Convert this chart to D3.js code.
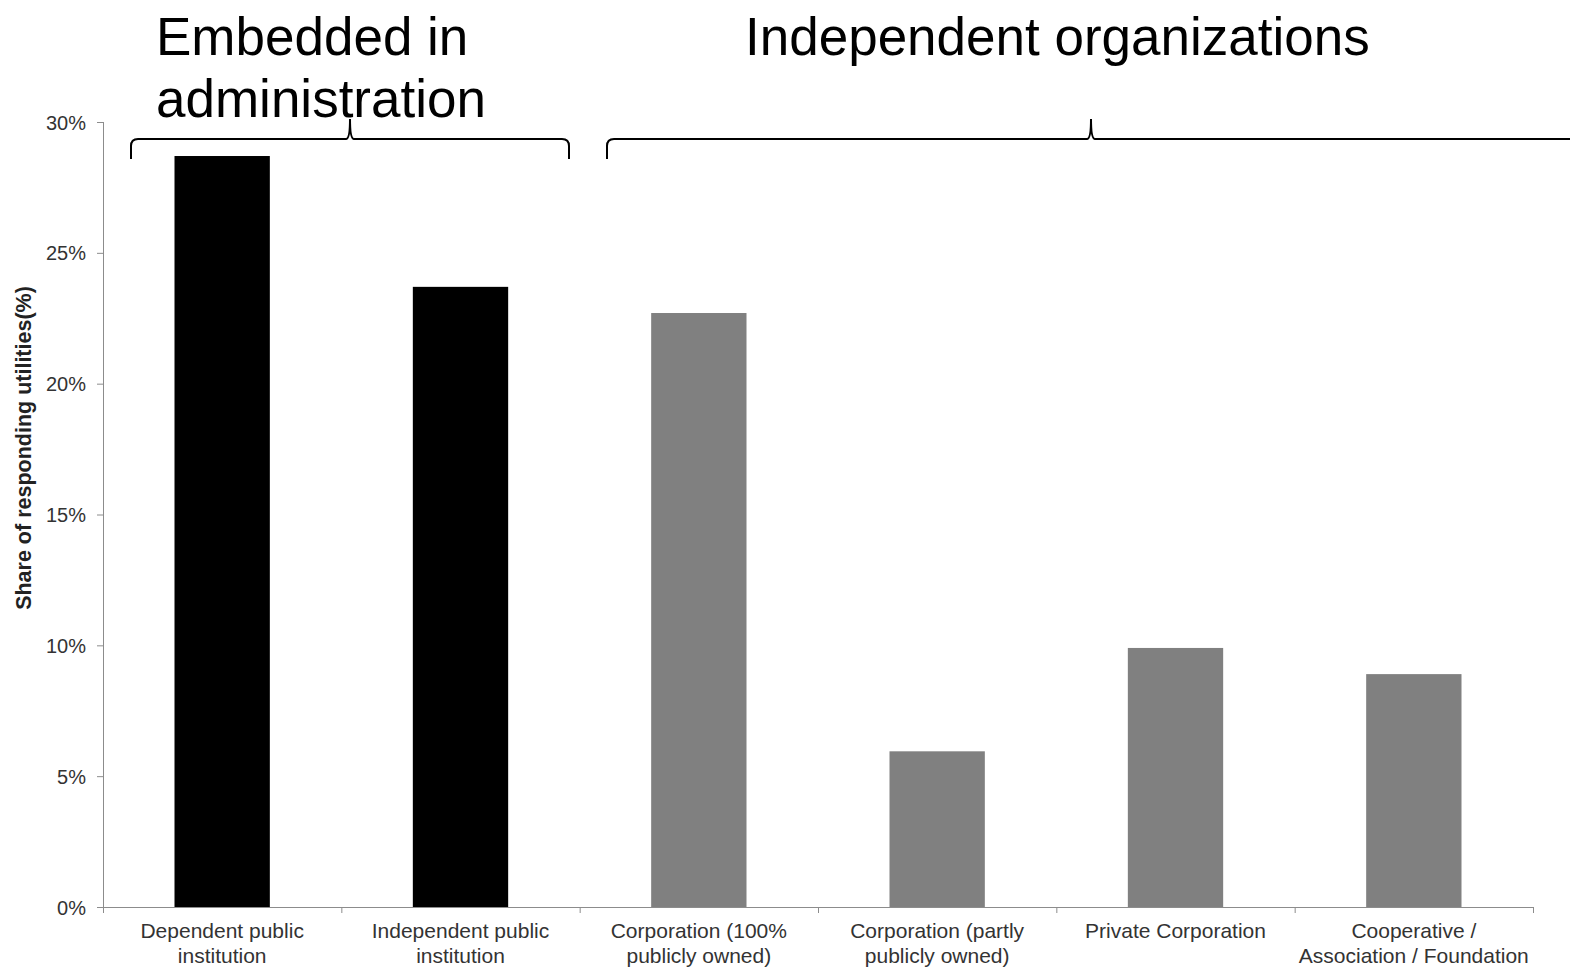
<!DOCTYPE html>
<html>
<head>
<meta charset="utf-8">
<script src="https://cdn.jsdelivr.net/npm/d3@7"></script>
<style>
  body { margin: 0; background: #fff; }
  svg { display: block; font-family: Arial, "Liberation Sans", sans-serif; }
  .axis path, .axis line { stroke: #8c8c8c; }
  .axis text { fill: #333; }
</style>
</head>
<body>
<svg id="chart" width="1570" height="968"></svg>
<script>
// categories, label lines and values
var categories = ['dep', 'indep', 'corp100', 'corpPart', 'private', 'coop'];
var labelLines = [
  ['Dependent public', 'institution'],
  ['Independent public', 'institution'],
  ['Corporation (100%', 'publicly owned)'],
  ['Corporation (partly', 'publicly owned)'],
  ['Private Corporation'],
  ['Cooperative /', 'Association / Foundation']
];
var shares = [28.7, 23.7, 22.7, 5.95, 9.9, 8.9];
var embedded = [true, true, false, false, false, false];
var yTicks = [0, 5, 10, 15, 20, 25, 30];

// group titles over the braces
var groupTitles = [['Embedded in', 'administration'], ['Independent organizations']];

var svg = d3.select('#chart');
var plotLeft = 103, plotRight = 1533, plotTop = 122, plotBottom = 907;

var x = d3.scaleBand().domain(categories).range([plotLeft, plotRight]).paddingInner(0.6).paddingOuter(0.3);
var xb = d3.scaleBand().domain(categories).range([plotLeft, plotRight]);
var y = d3.scaleLinear().domain([0, 30]).range([plotBottom, plotTop]);

// bars
svg.append('g').selectAll('rect')
  .data(shares)
  .enter().append('rect')
  .attr('x', function (d, i) { return x(categories[i]); })
  .attr('width', x.bandwidth())
  .attr('y', function (d) { return y(d); })
  .attr('height', function (d) { return y(0) - y(d); })
  .attr('fill', function (d, i) { return embedded[i] ? '#000' : '#808080'; });

// y axis
var axisY = svg.append('g')
  .attr('class', 'axis')
  .attr('transform', 'translate(' + plotLeft + ',0)')
  .call(d3.axisLeft(y).tickValues(yTicks).tickSize(6).tickPadding(11)
    .tickFormat(function (d) { return d + '%'; }));
axisY.selectAll('text').attr('font-size', 20).attr('dy', '0.35em');
axisY.select('.domain').attr('d', 'M0.5,' + plotTop + 'V' + plotBottom);

// x axis: ticks at category boundaries
var bounds = categories.map(function (c) { return xb(c); }).concat([plotRight]);
var axisX = svg.append('g').attr('class', 'axis');
axisX.append('line').attr('x1', plotLeft).attr('x2', plotRight).attr('y1', plotBottom + 0.5).attr('y2', plotBottom + 0.5);
axisX.selectAll('.tick').data(bounds).enter().append('line')
  .attr('x1', function (d) { return d + 0.5; }).attr('x2', function (d) { return d + 0.5; })
  .attr('y1', plotBottom).attr('y2', plotBottom + 6);

// x labels
svg.append('g').selectAll('text')
  .data(labelLines)
  .enter().append('text')
  .attr('text-anchor', 'middle')
  .attr('font-size', 21)
  .attr('fill', '#333')
  .attr('x', function (d, i) { return x(categories[i]) + x.bandwidth() / 2; })
  .attr('y', 938)
  .each(function (lines) {
    var t = d3.select(this), px = t.attr('x');
    lines.forEach(function (ln, k) {
      t.append('tspan').attr('x', px).attr('y', 938 + k * 24.5).text(ln);
    });
  });

// y title
svg.append('text')
  .attr('transform', 'translate(31,448) rotate(-90)')
  .attr('text-anchor', 'middle')
  .attr('font-size', 21.5)
  .attr('font-weight', 'bold')
  .attr('fill', '#222')
  .text('Share of responding utilities(%)');

// braces
function brace(x1, xm, x2) {
  var yb = 139, ye = 159, yp = 119, r = 7;
  return 'M' + x1 + ',' + ye + 'V' + (yb + r) + 'Q' + x1 + ',' + yb + ' ' + (x1 + r) + ',' + yb +
    'H' + (xm - 4) + 'Q' + xm + ',' + yb + ' ' + xm + ',' + yp +
    'Q' + xm + ',' + yb + ' ' + (xm + 4) + ',' + yb +
    'H' + (x2 - r) + 'Q' + x2 + ',' + yb + ' ' + x2 + ',' + (yb + r) + 'V' + ye;
}
svg.append('path').attr('d', brace(131, 350, 569)).attr('fill', 'none').attr('stroke', '#000').attr('stroke-width', 2);
svg.append('path').attr('d', brace(607, 1091, 1590)).attr('fill', 'none').attr('stroke', '#000').attr('stroke-width', 2);

// group titles
var g1 = svg.append('text').attr('font-size', 53).attr('fill', '#000');
groupTitles[0].forEach(function (ln, k) {
  g1.append('tspan').attr('x', 156).attr('y', 55 + k * 62).text(ln);
});
svg.append('text').attr('font-size', 53).attr('fill', '#000')
  .attr('x', 745).attr('y', 55).text(groupTitles[1][0]);
</script>
</body>
</html>
